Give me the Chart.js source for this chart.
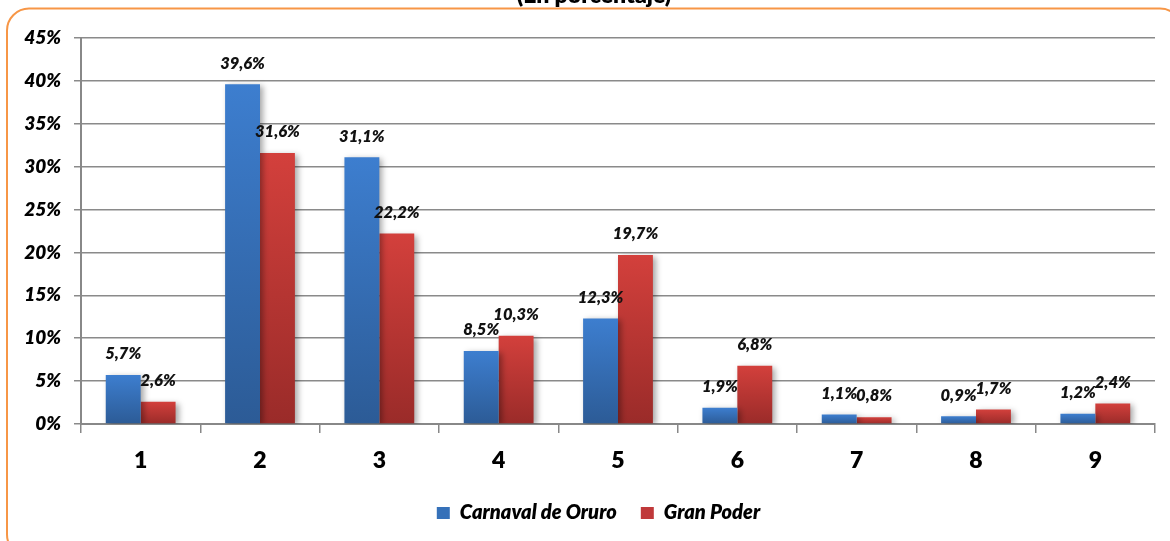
<!DOCTYPE html>
<html>
<head>
<meta charset="utf-8">
<script src="https://cdn.jsdelivr.net/npm/chart.js@4/dist/chart.umd.min.js"></script>
<style>
  html, body { margin: 0; padding: 0; background: #fff; }
  #wrap { position: relative; width: 1170px; height: 541px; }
</style>
</head>
<body>
<div id="wrap"><canvas id="c" width="1170" height="541"></canvas></div>
<script>
const categories = ['1', '2', '3', '4', '5', '6', '7', '8', '9'];
const carnavalOruro = [5.7, 39.6, 31.1, 8.5, 12.3, 1.9, 1.1, 0.9, 1.2];
const granPoder = [2.6, 31.6, 22.2, 10.3, 19.7, 6.8, 0.8, 1.7, 2.4];
const seriesNames = ['Carnaval de Oruro', 'Gran Poder'];
const yTicks = [0, 5, 10, 15, 20, 25, 30, 35, 40, 45];
const titleText = '(En porcentaje)';

const FONT = 'Lato, "Open Sans", sans-serif';
const W = '800';

function barGradient(top, bottom) {
  return function (ctx) {
    const chart = ctx.chart;
    if (!chart.chartArea || ctx.type !== 'data') return bottom;
    const y = chart.scales.y;
    const yTop = y.getPixelForValue(ctx.raw);
    const yBase = y.getPixelForValue(0);
    if (!isFinite(yTop) || Math.abs(yBase - yTop) < 1) return top;
    const g = chart.ctx.createLinearGradient(0, yTop, 0, yBase);
    g.addColorStop(0, top);
    g.addColorStop(1, bottom);
    return g;
  };
}

const framePlugin = {
  id: 'frame',
  beforeDraw(chart) {
    const c = chart.ctx;
    c.save();
    c.strokeStyle = '#f79646';
    c.lineWidth = 2;
    c.beginPath();
    c.roundRect(7, 8.5, 1175, 548, 22);
    c.stroke();
    c.fillStyle = '#000';
    c.font = W + ' 23px ' + FONT;
    c.textAlign = 'center';
    c.textBaseline = 'alphabetic';
    c.fillText(titleText, 594, 3);
    c.restore();
  },
  afterLayout(chart) {
    const lg = chart.legend;
    if (lg) { lg.left += 21; lg.right += 21; }
  }
};

const shadowPlugin = {
  id: 'shadow',
  beforeDatasetsDraw(chart) {
    const c = chart.ctx;
    c.save();
    c.shadowColor = 'rgba(0,0,0,0.35)';
    c.shadowBlur = 6;
    c.shadowOffsetX = 3;
    c.shadowOffsetY = 2;
  },
  afterDatasetsDraw(chart) {
    chart.ctx.restore();
    const c = chart.ctx;
    c.save();
    c.fillStyle = '#111';
    c.font = 'italic ' + W + ' 16.5px ' + FONT;
    c.textAlign = 'center';
    c.textBaseline = 'middle';
    chart.data.datasets.forEach((ds, di) => {
      const meta = chart.getDatasetMeta(di);
      meta.data.forEach((el, i) => {
        const txt = ds.data[i].toFixed(1).replace('.', ',') + '%';
        c.fillText(txt, el.x, el.y - 21);
      });
    });
    c.restore();
  }
};

new Chart(document.getElementById('c'), {
  type: 'bar',
  data: {
    labels: categories,
    datasets: [
      {
        label: seriesNames[0],
        data: carnavalOruro,
        backgroundColor: barGradient('#3d7ecf', '#2c5b96'),
        borderWidth: 0,
        categoryPercentage: 0.585,
        barPercentage: 1.0
      },
      {
        label: seriesNames[1],
        data: granPoder,
        backgroundColor: barGradient('#d3403c', '#9a2b29'),
        borderWidth: 0,
        categoryPercentage: 0.585,
        barPercentage: 1.0
      }
    ]
  },
  options: {
    responsive: false,
    animation: false,
    layout: { padding: { top: 38, right: 15, left: 0, bottom: 8 } },
    plugins: {
      title: { display: false },
      tooltip: { enabled: false },
      legend: {
        position: 'bottom',
        labels: {
          boxWidth: 13,
          boxHeight: 12,
          padding: 24,
          color: '#000',
          font: { family: FONT, size: 20, weight: W, style: 'italic', lineHeight: 1.2 },
          generateLabels(chart) {
            const cols = ['#3671b9', '#c0393a'];
            return chart.data.datasets.map((ds, i) => ({
              text: ds.label,
              fillStyle: cols[i],
              strokeStyle: cols[i],
              lineWidth: 0,
              datasetIndex: i,
              fontColor: '#000'
            }));
          }
        }
      }
    },
    scales: {
      x: {
        grid: {
          offset: true,
          drawOnChartArea: false,
          drawTicks: true,
          tickLength: 9,
          color: '#888',
          lineWidth: 1.5
        },
        border: { color: '#888', width: 2 },
        ticks: {
          color: '#000',
          padding: 14,
          font: { family: FONT, size: 23, weight: W }
        },
        afterFit(scale) { scale.height = 55; }
      },
      y: {
        min: 0,
        max: 45,
        afterBuildTicks(scale) { scale.ticks = yTicks.map(v => ({ value: v })); },
        grid: { color: '#8a8a8a', lineWidth: 1.5, tickLength: 7 },
        border: { color: '#888', width: 2 },
        ticks: {
          color: '#000',
          padding: 13,
          font: { family: FONT, size: 19, weight: W, style: 'italic' },
          callback: v => v + '%'
        },
        afterFit(scale) { scale.width = 81; }
      }
    }
  },
  plugins: [framePlugin, shadowPlugin]
});
</script>
</body>
</html>
